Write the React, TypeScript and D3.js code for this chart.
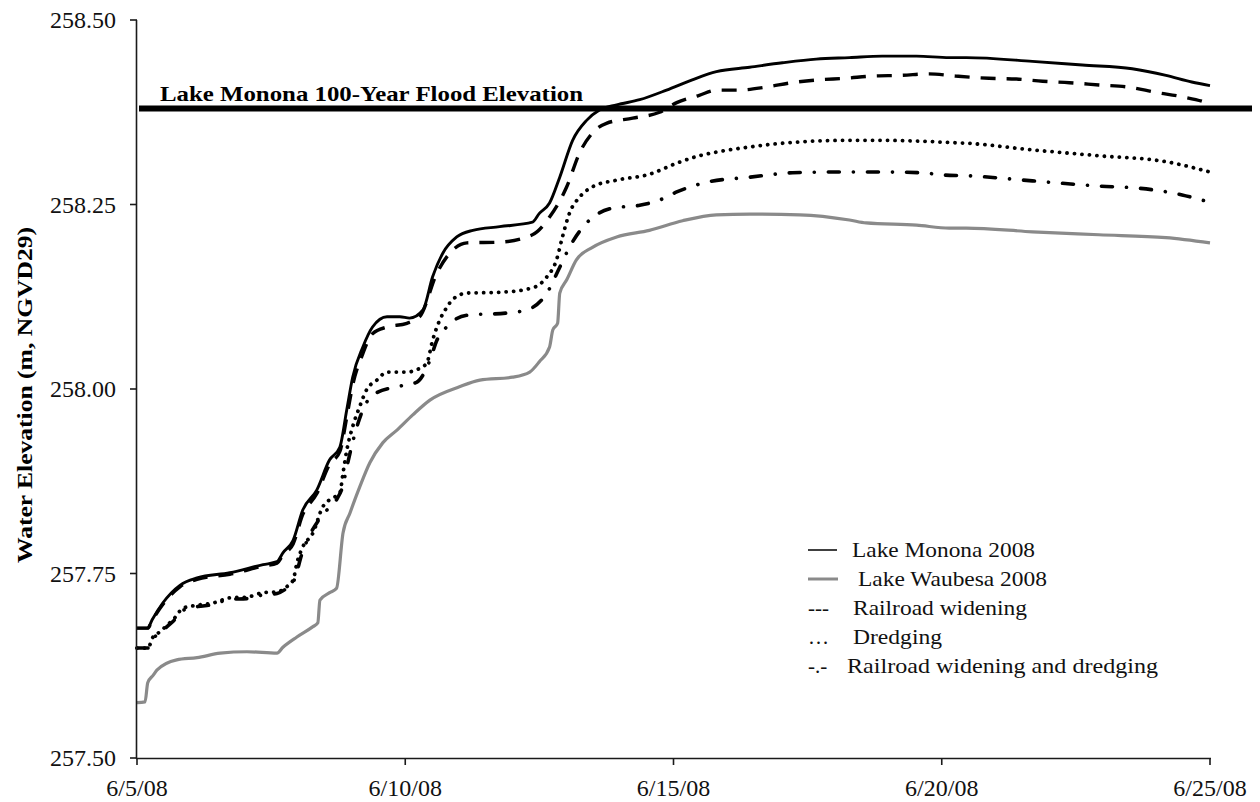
import React from "react";
import * as d3 from "d3";

// days since 6/5/08, elevation (m, NGVD29)
const mononaData: [number, number][] = [
  [0, 257.676], [0.2, 257.676], [0.28, 257.687], [0.48, 257.71], [0.8, 257.734], [1.12, 257.744], [1.73, 257.751],
  [2.35, 257.762], [2.61, 257.766], [2.72, 257.778], [2.91, 257.795], [3.09, 257.836], [3.35, 257.863], [3.59, 257.904],
  [3.78, 257.921], [3.91, 257.972], [4.02, 258.016], [4.21, 258.057], [4.39, 258.084], [4.66, 258.098], [4.9, 258.098],
  [5.08, 258.096], [5.33, 258.107], [5.51, 258.152], [5.7, 258.184], [5.96, 258.206], [6.26, 258.215], [6.76, 258.22],
  [7.37, 258.226], [7.5, 258.238], [7.69, 258.252], [7.88, 258.287], [8.12, 258.337], [8.38, 258.364], [8.62, 258.378],
  [8.94, 258.385], [9.37, 258.392], [9.87, 258.405], [10.35, 258.419], [10.8, 258.43], [11.42, 258.436], [12.03, 258.442],
  [12.66, 258.447], [13.28, 258.449], [13.89, 258.451], [14.53, 258.451], [15.14, 258.449], [15.46, 258.449],
  [16.69, 258.444], [17.62, 258.439], [18.55, 258.434], [19.18, 258.425], [19.66, 258.416], [20, 258.411],
];

const railroadData: [number, number][] = [
  [0, 257.676], [0.2, 257.676], [0.28, 257.686], [0.48, 257.708], [0.8, 257.732], [1.12, 257.742], [1.73, 257.749],
  [2.35, 257.76], [2.61, 257.764], [2.72, 257.775], [2.91, 257.79], [3.09, 257.83], [3.35, 257.858], [3.59, 257.898],
  [3.78, 257.915], [3.91, 257.962], [4.02, 258.005], [4.21, 258.048], [4.39, 258.075], [4.66, 258.084], [5.03, 258.089],
  [5.27, 258.098], [5.59, 258.157], [5.83, 258.184], [6.15, 258.198], [6.76, 258.199], [7.37, 258.209], [7.69, 258.233],
  [8.01, 258.274], [8.25, 258.32], [8.49, 258.347], [8.75, 258.36], [9.24, 258.367], [9.74, 258.375], [10.06, 258.388],
  [10.48, 258.398], [10.8, 258.405], [11.21, 258.405], [11.72, 258.409], [12.2, 258.415], [12.71, 258.419],
  [13.21, 258.421], [13.7, 258.424], [14.26, 258.425], [14.76, 258.427], [15.26, 258.424], [15.88, 258.421],
  [16.39, 258.42], [16.88, 258.417], [17.38, 258.415], [17.93, 258.412], [18.49, 258.409], [18.99, 258.402],
  [19.48, 258.396], [19.93, 258.388], [20, 258.386],
];

const dredgingData: [number, number][] = [
  [0, 257.649], [0.2, 257.649], [0.3, 257.664], [0.43, 257.671], [0.56, 257.68], [0.67, 257.687], [0.86, 257.703],
  [1.12, 257.707], [1.42, 257.71], [1.73, 257.717], [2.05, 257.718], [2.35, 257.724], [2.61, 257.725], [2.79, 257.732],
  [2.91, 257.741], [2.98, 257.764], [3.09, 257.786], [3.28, 257.805], [3.46, 257.84], [3.59, 257.85], [3.78, 257.859],
  [3.84, 257.886], [3.91, 257.917], [4.02, 257.949], [4.15, 257.976], [4.28, 257.999], [4.47, 258.012], [4.66, 258.023],
  [5.03, 258.023], [5.21, 258.026], [5.4, 258.035], [5.51, 258.066], [5.64, 258.093], [5.77, 258.11], [5.88, 258.121],
  [6.15, 258.13], [6.76, 258.131], [7.37, 258.137], [7.64, 258.152], [7.82, 258.175], [7.93, 258.206], [8.06, 258.238],
  [8.25, 258.26], [8.49, 258.274], [8.94, 258.283], [9.55, 258.291], [10.06, 258.306], [10.48, 258.316], [10.8, 258.321],
  [11.42, 258.328], [12.03, 258.333], [12.66, 258.336], [13.28, 258.337], [13.89, 258.337], [14.53, 258.336],
  [15.14, 258.334], [15.46, 258.333], [16.69, 258.324], [17.93, 258.316], [19.18, 258.308], [20, 258.294],
];

const bothData: [number, number][] = [
  [0, 257.649], [0.2, 257.649], [0.3, 257.662], [0.43, 257.669], [0.56, 257.678], [0.67, 257.685], [0.86, 257.7],
  [1.12, 257.705], [1.42, 257.708], [1.73, 257.715], [2.05, 257.716], [2.35, 257.721], [2.61, 257.723], [2.79, 257.73],
  [2.91, 257.738], [3.09, 257.78], [3.46, 257.83], [3.72, 257.85], [3.84, 257.87], [3.91, 257.894], [4.1, 257.949],
  [4.21, 257.972], [4.47, 257.995], [4.84, 258.003], [5.21, 258.009], [5.46, 258.039], [5.59, 258.066], [5.77, 258.084],
  [6.15, 258.1], [6.89, 258.103], [7.26, 258.107], [7.64, 258.13], [7.88, 258.165], [8.06, 258.192], [8.38, 258.225],
  [8.86, 258.245], [9.37, 258.249], [9.74, 258.256], [10.06, 258.267], [10.61, 258.28], [11.42, 258.287],
  [12.22, 258.293], [13.04, 258.294], [13.84, 258.294], [14.64, 258.293], [15.01, 258.29], [15.46, 258.289],
  [16.69, 258.282], [17.93, 258.275], [18.68, 258.272], [19.48, 258.263], [19.85, 258.256], [20, 258.253],
];

const waubesaData: [number, number][] = [
  [0, 257.575], [0.15, 257.576], [0.2, 257.602], [0.3, 257.612], [0.37, 257.619], [0.74, 257.633], [1.12, 257.636],
  [1.55, 257.642], [2.05, 257.644], [2.61, 257.642], [2.72, 257.65], [2.98, 257.664], [3.28, 257.678], [3.37, 257.683],
  [3.41, 257.714], [3.59, 257.724], [3.72, 257.73], [3.84, 257.805], [3.97, 257.832], [4.15, 257.867], [4.34, 257.9],
  [4.58, 257.927], [4.84, 257.944], [5.14, 257.965], [5.46, 257.985], [6.01, 258.003], [6.39, 258.012], [7.0, 258.016],
  [7.32, 258.023], [7.5, 258.037], [7.69, 258.057], [7.75, 258.08], [7.84, 258.089], [7.88, 258.13], [8.01, 258.148],
  [8.19, 258.175], [8.49, 258.192], [8.94, 258.206], [9.55, 258.215], [10.17, 258.228], [10.8, 258.236],
  [11.42, 258.237], [12.35, 258.236], [13.28, 258.229], [13.59, 258.225], [14.53, 258.222], [15.14, 258.218],
  [15.46, 258.218], [16.69, 258.213], [17.93, 258.209], [19.18, 258.205], [20, 258.198],
];

const floodElevation = 258.38;
const floodLabel = "Lake Monona 100-Year Flood Elevation";

const yTicks = [257.5, 257.75, 258.0, 258.25, 258.5];
const xTickDays = [0, 5, 10, 15, 20];
const xTickLabels = ["6/5/08", "6/10/08", "6/15/08", "6/20/08", "6/25/08"];
const yLabel = "Water Elevation (m, NGVD29)";

const legendSymbols = ["", "", "---", "\u2026", "-.-"];
const legendLabels = [
  "Lake Monona 2008",
  "Lake Waubesa 2008",
  "Railroad widening",
  "Dredging",
  "Railroad widening and dredging",
];

const FONT = "'Liberation Serif', 'Times New Roman', serif";

export default function App() {
  const W = 1260;
  const H = 802;
  const left = 137;
  const right = 1210;
  const top = 20;
  const bottom = 758;

  const x = d3.scaleLinear().domain([0, 20]).range([left, right]);
  const y = d3.scaleLinear().domain([257.5, 258.5]).range([bottom, top]);

  const line = d3
    .line<[number, number]>()
    .x((d) => x(d[0]))
    .y((d) => y(d[1]))
    .curve(d3.curveMonotoneX);

  const axisColor = "#1a1a1a";
  const fy = y(floodElevation);

  const legendX = 808;
  const legendY0 = 557;
  const legendDy = 29;
  const legendTextX = [852, 858, 853, 853, 847];
  const legendTextLen = [183, 189, 174, 89, 311];

  return (
    <svg
      width={W}
      height={H}
      style={{ position: "absolute", left: 0, top: 0, background: "#fff" }}
      fontFamily={FONT}
    >
      <rect x={0} y={0} width={W} height={H} fill="#fff" />

      {/* series */}
      <path d={line(waubesaData) || ""} fill="none" stroke="#8a8a8a" strokeWidth={3.2} strokeLinejoin="round" />
      <path
        d={line(dredgingData) || ""}
        fill="none"
        stroke="#000"
        strokeWidth={3.8}
        strokeDasharray="0.1,7.4"
        strokeLinecap="round"
      />
      <path
        d={line(bothData) || ""}
        fill="none"
        stroke="#000"
        strokeWidth={3.6}
        strokeDasharray="11,14,0.1,14"
        strokeLinecap="round"
      />
      <path
        d={line(railroadData) || ""}
        fill="none"
        stroke="#000"
        strokeWidth={3.4}
        strokeDasharray="15,11"
      />
      <path d={line(mononaData) || ""} fill="none" stroke="#000" strokeWidth={2.9} strokeLinejoin="round" />

      {/* flood line */}
      <line x1={left + 2} x2={1252} y1={fy} y2={fy} stroke="#000" strokeWidth={6} />
      <text x={160} y={101} fontSize={22} fontWeight="bold" textLength={423} lengthAdjust="spacingAndGlyphs">
        {floodLabel}
      </text>

      {/* axes */}
      <line x1={left - 0.5} x2={left - 0.5} y1={top} y2={bottom + 1} stroke={axisColor} strokeWidth={1.6} />
      <line x1={left - 1} x2={right + 1} y1={bottom + 0.5} y2={bottom + 0.5} stroke={axisColor} strokeWidth={1.6} />
      {yTicks.map((t) => (
        <g key={t}>
          <line x1={left - 7} x2={left} y1={y(t)} y2={y(t)} stroke={axisColor} strokeWidth={1.6} />
          <text x={116} y={y(t) + 8} textAnchor="end" fontSize={24} fill="#111">
            {t.toFixed(2)}
          </text>
        </g>
      ))}
      {xTickDays.map((d, i) => (
        <g key={d}>
          <line x1={x(d)} x2={x(d)} y1={bottom} y2={bottom + 7} stroke={axisColor} strokeWidth={1.6} />
          <text x={x(d)} y={796} textAnchor="middle" fontSize={24} fill="#111">
            {xTickLabels[i]}
          </text>
        </g>
      ))}
      <text
        transform={`translate(32, ${395}) rotate(-90)`}
        textAnchor="middle"
        fontSize={21}
        fontWeight="bold"
        textLength={336}
        lengthAdjust="spacingAndGlyphs"
      >
        {yLabel}
      </text>

      {/* legend */}
      <line x1={legendX} x2={legendX + 29} y1={legendY0 - 7} y2={legendY0 - 7} stroke="#000" strokeWidth={1.5} />
      <line
        x1={legendX}
        x2={legendX + 30}
        y1={legendY0 + legendDy - 7}
        y2={legendY0 + legendDy - 7}
        stroke="#8a8a8a"
        strokeWidth={3}
      />
      {legendLabels.map((lab, i) => (
        <g key={lab}>
          {legendSymbols[i] && (
            <text x={legendX} y={legendY0 + i * legendDy} fontSize={21} fill="#111">
              {legendSymbols[i]}
            </text>
          )}
          <text
            x={legendTextX[i]}
            y={legendY0 + i * legendDy}
            fontSize={21}
            fill="#111"
            textLength={legendTextLen[i]}
            lengthAdjust="spacingAndGlyphs"
          >
            {lab}
          </text>
        </g>
      ))}
    </svg>
  );
}
